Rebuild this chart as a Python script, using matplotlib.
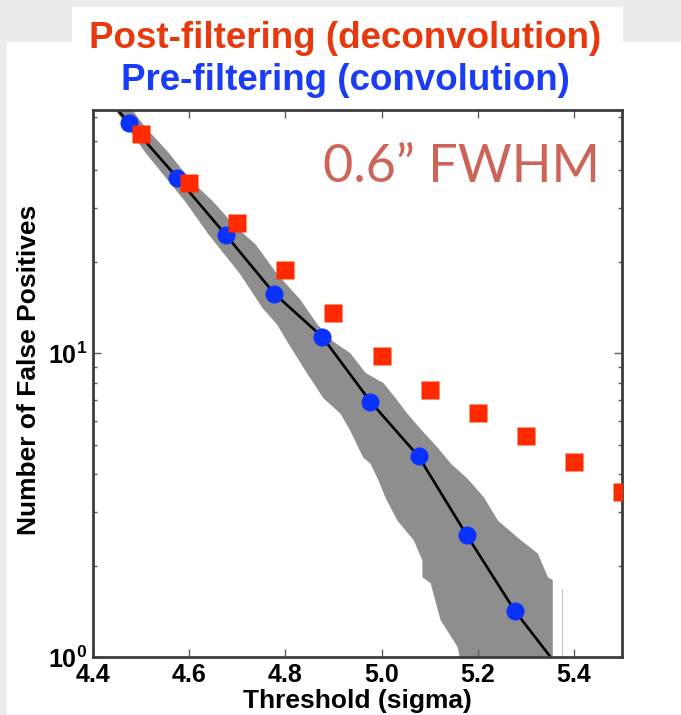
import matplotlib
matplotlib.use("Agg")
from matplotlib import pyplot as plt
from matplotlib.patches import Rectangle
from matplotlib.ticker import LogLocator, NullFormatter

plt.rcParams['font.family'] = ['Liberation Sans', 'DejaVu Sans']
plt.rcParams['mathtext.fontset'] = 'custom'
plt.rcParams['mathtext.rm'] = 'Liberation Sans:bold'
plt.rcParams['mathtext.bf'] = 'Liberation Sans:bold'
plt.rcParams['mathtext.it'] = 'Liberation Sans:bold'
plt.rcParams['mathtext.default'] = 'rm'

# pre-filtering (convolution), blue circles
pre_x = [4.475, 4.575, 4.677, 4.777, 4.877, 4.977, 5.077, 5.177, 5.277]
pre_y = [57.3, 37.8, 24.4, 15.7, 11.3, 6.92, 4.57, 2.52, 1.42]

# post-filtering (deconvolution), red squares
post_x = [4.5, 4.6, 4.7, 4.8, 4.9, 5.0, 5.1, 5.2, 5.3, 5.4, 5.5]
post_y = [52.5, 36.4, 26.7, 18.8, 13.6, 9.81, 7.56, 6.35, 5.32, 4.37, 3.48]

# expected curve (black line)
curve_x = [4.44, 4.475, 4.575, 4.677, 4.777, 4.877, 4.977, 5.077, 5.177, 5.277, 5.36]
curve_y = [66, 57.3, 37.8, 24.4, 15.7, 11.3, 6.92, 4.57, 2.52, 1.42, 0.96]

# grey scatter band, upper edge then lower edge
band_hi_x = [4.477, 4.508, 4.556, 4.602, 4.650, 4.696, 4.738, 4.783, 4.831, 4.867,
             4.900, 4.935, 4.967, 5.004, 5.029, 5.054, 5.081, 5.117, 5.144, 5.179,
             5.213, 5.242, 5.290, 5.325, 5.346, 5.356, 5.356]
band_hi_y = [64.6, 55.5, 45.9, 37.2, 31.5, 26.1, 22.8, 18.2, 15.0, 12.4,
             10.9, 10.0, 8.60, 7.97, 7.11, 6.31, 5.63, 4.88, 4.33, 3.86,
             3.35, 2.81, 2.42, 2.19, 1.83, 1.79, 0.9]
band_lo_x = [4.442, 4.508, 4.550, 4.592, 4.640, 4.706, 4.752, 4.783, 4.804, 4.846,
             4.856, 4.879, 4.915, 4.935, 4.952, 4.962, 4.977, 4.994, 5.008, 5.033,
             5.067, 5.085, 5.085, 5.102, 5.123, 5.158, 5.169]
band_lo_y = [64.6, 45.9, 38.0, 31.5, 24.6, 18.2, 14.1, 12.4, 10.9, 8.53,
             8.09, 7.11, 6.31, 5.55, 4.88, 4.53, 4.33, 3.80, 3.35, 2.81,
             2.42, 2.08, 1.83, 1.75, 1.32, 1.08, 0.9]

# stray sliver of the band
sliver_x = 5.376
sliver_top = 1.68

xticks = [4.4, 4.6, 4.8, 5.0, 5.2, 5.4]
xtick_labels = ['4.4', '4.6', '4.8', '5.0', '5.2', '5.4']

fig = plt.figure(figsize=(6.81, 7.15), dpi=100, facecolor='#ececec')
# white slide areas behind the chart
fig.patches.append(Rectangle((7/681, 0), 674/681, 673/715, transform=fig.transFigure,
                             facecolor='white', edgecolor='none', zorder=-10))
fig.patches.append(Rectangle((72/681, 673/715), 551/681, 35/715, transform=fig.transFigure,
                             facecolor='white', edgecolor='none', zorder=-10))

ax = fig.add_axes([93/681, 58/715, 529/681, 547/715])
ax.set_yscale('log')

poly_x = band_hi_x + band_lo_x[::-1]
poly_y = band_hi_y + band_lo_y[::-1]
ax.fill(poly_x, poly_y, color='#8e8e8e', lw=0, zorder=1)
ax.plot([sliver_x, sliver_x], [0.9, sliver_top], color='#c8c8c8', lw=1, zorder=1)

ax.plot(curve_x, curve_y, color='black', lw=1.9, zorder=2)
ax.plot(pre_x, pre_y, 'o', color='#0a32ff', ms=13, mec='none', zorder=3)
ax.plot(post_x, post_y, 's', color='#ff2a00', ms=13, mec='none', zorder=4)

ax.set_xlim(4.4, 5.5)
ax.set_ylim(1, 10**1.8)

ax.set_xticks(xticks)
ax.set_xticklabels(xtick_labels)
ax.yaxis.set_major_locator(LogLocator(base=10))
ax.yaxis.set_minor_locator(LogLocator(base=10, subs=range(2, 10)))
ax.yaxis.set_minor_formatter(NullFormatter())

for side in ax.spines.values():
    side.set_linewidth(2.0)
    side.set_color('#3c3c3c')
ax.tick_params(which='both', direction='in', top=True, right=True, color='#606060')
ax.tick_params(which='major', length=6, width=1, labelsize=18, pad=4)
ax.tick_params(which='minor', length=3, width=1)
for lab in ax.get_xticklabels() + ax.get_yticklabels():
    lab.set_fontweight('bold')

ax.set_xlabel('Threshold (sigma)', fontsize=19, fontweight='bold')
ax.set_ylabel('Number of False Positives', fontsize=19, fontweight='bold')
ax.xaxis.set_label_coords(0.5, -0.058)
ax.yaxis.set_label_coords(-0.098, 0.524)

ax.text(323/681, 1 - 182/715, '0.6\u201d FWHM', transform=fig.transFigure,
        family=['Lato', 'DejaVu Sans'], fontsize=37.5, color='#cd645a', va='baseline')

fig.text(0.507, 1 - 48/715, 'Post-filtering (deconvolution)', ha='center', va='baseline',
         fontsize=26.5, fontweight='bold', color='#e8380d')
fig.text(0.507, 1 - 90/715, 'Pre-filtering (convolution)', ha='center', va='baseline',
         fontsize=26.5, fontweight='bold', color='#1a3cf5')

fig.savefig('out.png', dpi=100, facecolor=fig.get_facecolor())
